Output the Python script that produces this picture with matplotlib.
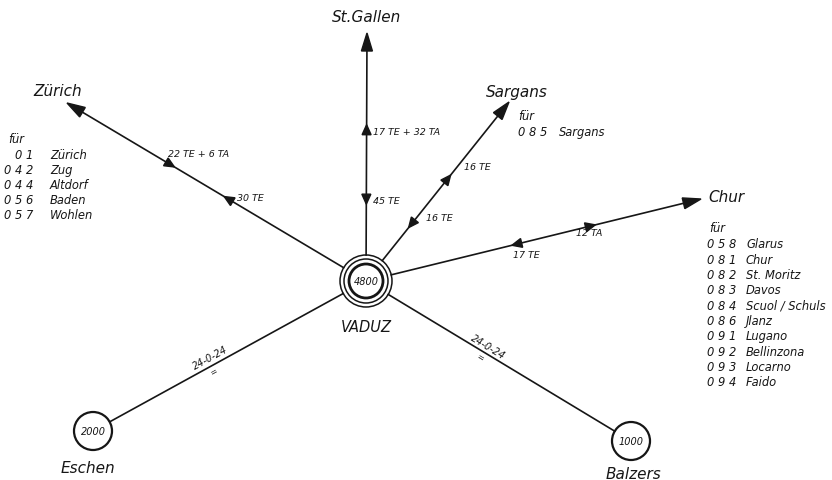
import numpy as np
import matplotlib
matplotlib.use("Agg")
import matplotlib.pyplot as plt
from matplotlib.patches import Circle, Polygon

# ---- data ----
hub_name = "VADUZ"
hub_code = "4800"
# arrow destinations (name, tip x, tip y)
dest_names = ["Zürich", "St.Gallen", "Sargans", "Chur"]
dest_tips = [(67, 104), (367, 34), (509, 103), (701, 200)]
dest_label_pos = [(58, 92), (367, 17), (517, 92), (708, 198)]
# line markers
marker_dest = [0, 0, 1, 1, 2, 2, 3, 3]
marker_frac = [0.655, 0.46, 0.61, 0.33, 0.57, 0.32, 0.45, 0.67]
marker_dir = [-1, 1, 1, -1, 1, -1, -1, 1]
marker_text = ["22 TE + 6 TA", "30 TE", "17 TE + 32 TA", "45 TE", "16 TE", "16 TE", "17 TE", "12 TA"]
marker_text_pos = [(199, 155), (237, 199), (373, 133), (373, 202), (464, 168), (426, 219), (526, 256), (589, 234)]

# end stations
end_names = ["Eschen", "Balzers"]
end_codes = ["2000", "1000"]
end_centers = [(93, 432), (631, 442)]
end_label_pos = [(88, 469), (633, 475)]
end_line_text = ["24-0-24", "24-0-24"]
end_line_text_pos = [(210, 358), (488, 347)]
end_eq_pos = [(214, 372), (480, 358)]

# code tables
zurich_codes = ["01", "042", "044", "056", "057"]
zurich_places = ["Zürich", "Zug", "Altdorf", "Baden", "Wohlen"]
sargans_codes = ["085"]
sargans_places = ["Sargans"]
chur_codes = ["058", "081", "082", "083", "084", "086", "091", "092", "093", "094"]
chur_places = ["Glarus", "Chur", "St. Moritz", "Davos", "Scuol / Schuls", "Jlanz",
               "Lugano", "Bellinzona", "Locarno", "Faido"]

# ---- drawing ----
fig = plt.figure(figsize=(8.32, 4.81), dpi=100)
ax = fig.add_axes([0, 0, 1, 1])
ax.set_xlim(0, 832)
ax.set_ylim(481, 0)
ax.set_aspect("auto")
ax.axis("off")

FONT = "DejaVu Sans"
ink = "#161616"
hub = np.array([366.0, 282.0])
R_out = 26

def txt(x, y, s, size=8, ha="left", va="center", rot=0):
    ax.text(x, y, s, fontsize=size, ha=ha, va=va, rotation=rot, fontstyle="italic",
            family=FONT, color=ink, rotation_mode="anchor")

# hub circles
ax.add_patch(Circle(hub, 26, fill=False, lw=1.1, ec=ink))
ax.add_patch(Circle(hub, 22, fill=False, lw=1.1, ec=ink))
ax.add_patch(Circle(hub, 17, fill=False, lw=2.0, ec=ink))
txt(hub[0], hub[1], hub_code, size=7, ha="center")
txt(hub[0], 328, hub_name, size=10.5, ha="center")

def tri(center, d, length, width):
    d = d / np.linalg.norm(d)
    n = np.array([-d[1], d[0]])
    tip = center + d * length / 2
    base = center - d * length / 2
    pts = [tip, base + n * width / 2, base - n * width / 2]
    ax.add_patch(Polygon(pts, closed=True, fc=ink, ec=ink, lw=1.0))

# destination lines with arrowheads
for name, tip, lp in zip(dest_names, dest_tips, dest_label_pos):
    tip = np.array(tip, float)
    d = tip - hub
    u = d / np.linalg.norm(d)
    start = hub + u * R_out
    ax.plot([start[0], tip[0] - u[0] * 8], [start[1], tip[1] - u[1] * 8], color=ink, lw=1.2)
    tri(tip - u * 9, u, 18, 11)
    txt(lp[0], lp[1], name, size=11, ha="left" if name == "Chur" else "center")

# markers on lines
for di, fr, dr, t, tp in zip(marker_dest, marker_frac, marker_dir, marker_text, marker_text_pos):
    tip = np.array(dest_tips[di], float)
    c = hub + (tip - hub) * fr
    tri(c, (tip - hub) * dr, 10, 9)
    txt(tp[0], tp[1], t, size=6.8, ha="center" if di in (0, 3) and t != "30 TE" else "left")

# end stations
for name, code, cc, lp, lt, lpos, eq in zip(end_names, end_codes, end_centers, end_label_pos,
                                          end_line_text, end_line_text_pos, end_eq_pos):
    cc = np.array(cc, float)
    ax.add_patch(Circle(cc, 19, fill=False, lw=1.6, ec=ink))
    txt(cc[0], cc[1], code, size=7, ha="center")
    d = cc - hub
    u = d / np.linalg.norm(d)
    a = hub + u * R_out
    b = cc - u * 19
    ax.plot([a[0], b[0]], [a[1], b[1]], color=ink, lw=1.2)
    ang = np.degrees(np.arctan2(-(d[1]), d[0]))
    if ang < -90:
        ang += 180
    if ang > 90:
        ang -= 180
    txt(lpos[0], lpos[1], lt, size=7, ha="center", rot=ang)
    txt(eq[0], eq[1], "=", size=6, ha="center", rot=ang)
    txt(lp[0], lp[1], name, size=11, ha="center")

# tables
TS = 8.3
txt(8, 140, "für", size=TS)
for i, (c, p) in enumerate(zip(zurich_codes, zurich_places)):
    y = 156 + i * 15
    txt(33, y, " ".join(c), size=TS, ha="right")
    txt(50, y, p, size=TS)

txt(518, 117, "für", size=TS)
for i, (c, p) in enumerate(zip(sargans_codes, sargans_places)):
    y = 133 + i * 15
    txt(518, y, " ".join(c), size=TS)
    txt(559, y, p, size=TS)

txt(709, 229, "für", size=TS)
for i, (c, p) in enumerate(zip(chur_codes, chur_places)):
    y = 245 + i * 15.3
    txt(707, y, " ".join(c), size=TS)
    txt(746, y, p, size=TS)

fig.savefig("out.png", dpi=100, facecolor="white")
